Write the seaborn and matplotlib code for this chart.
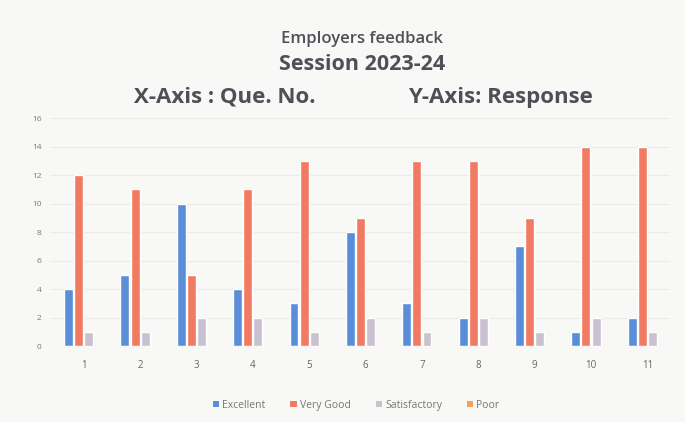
import matplotlib
matplotlib.use("Agg")
import matplotlib.pyplot as plt
import seaborn as sns
import pandas as pd

questions = ["1", "2", "3", "4", "5", "6", "7", "8", "9", "10", "11"]
excellent = [4, 5, 10, 4, 3, 8, 3, 2, 7, 1, 2]
very_good = [12, 11, 5, 11, 13, 9, 13, 13, 9, 14, 14]
satisfactory = [1, 1, 2, 2, 1, 2, 1, 2, 1, 2, 1]
poor = [0, 0, 0, 0, 0, 0, 0, 0, 0, 0, 0]
series_names = ["Excellent", "Very Good", "Satisfactory", "Poor"]
y_ticks = [0, 2, 4, 6, 8, 10, 12, 14, 16]

rows = []
for name, vals in zip(series_names, [excellent, very_good, satisfactory, poor]):
    for q, v in zip(questions, vals):
        rows.append({"Question": q, "Series": name, "Value": v})
df = pd.DataFrame(rows)

sns.set_theme(style="white")
plt.rcParams['font.family'] = ['Open Sans', 'DejaVu Sans']

bg = "#f8f8f6"
fig = plt.figure(figsize=(6.85, 4.22), dpi=100, facecolor=bg)
ax = fig.add_axes([0.073, 0.18, 0.905, 0.54], facecolor=bg)

palette = {"Excellent": "#5b8ed8", "Very Good": "#f07a62",
           "Satisfactory": "#c9c0d0", "Poor": "#f0a457"}
sns.barplot(data=df, x="Question", y="Value", hue="Series", order=questions,
            hue_order=series_names, palette=palette, width=0.72, gap=0.12,
            saturation=1, ax=ax, legend=False)

ax.set_ylim(0, 16)
ax.set_xlim(-0.6, 10.4)
ax.set_yticks(y_ticks)
ax.set_yticklabels([str(t) for t in y_ticks], fontsize=6, color="#777777")
ax.tick_params(axis="x", labelsize=7, colors="#666666", pad=10, length=0)
ax.tick_params(axis="y", length=0, pad=6)
ax.yaxis.grid(True, color="#ecebea", linewidth=0.8)
ax.set_axisbelow(True)
for s in ax.spines.values():
    s.set_visible(False)
ax.axhline(0, color="#dddddd", linewidth=0.8)
ax.set_xlabel("")
ax.set_ylabel("")

tc = "#4f4f58"
fig.text(0.528, 0.908, "Employers feedback", ha="center", va="center",
         fontsize=12, color=tc, fontweight="semibold")
fig.text(0.528, 0.848, "Session 2023-24", ha="center", va="center",
         fontsize=15.5, color=tc, fontweight="bold")
fig.text(0.328, 0.77, "X-Axis : Que. No.", ha="center", va="center",
         fontsize=16, color=tc, fontweight="bold")
fig.text(0.73, 0.77, "Y-Axis: Response", ha="center", va="center",
         fontsize=16, color=tc, fontweight="bold")

from matplotlib.patches import Patch
handles = [Patch(facecolor=palette[n], edgecolor="none") for n in series_names]
leg = fig.legend(handles, series_names, loc="center", bbox_to_anchor=(0.52, 0.04),
                 ncol=4, frameon=False, fontsize=7.5, handlelength=0.6,
                 handleheight=0.6, handletextpad=0.3, columnspacing=2.4)
for t in leg.get_texts():
    t.set_color("#777777")

fig.savefig("out.png", dpi=100, facecolor=bg)
